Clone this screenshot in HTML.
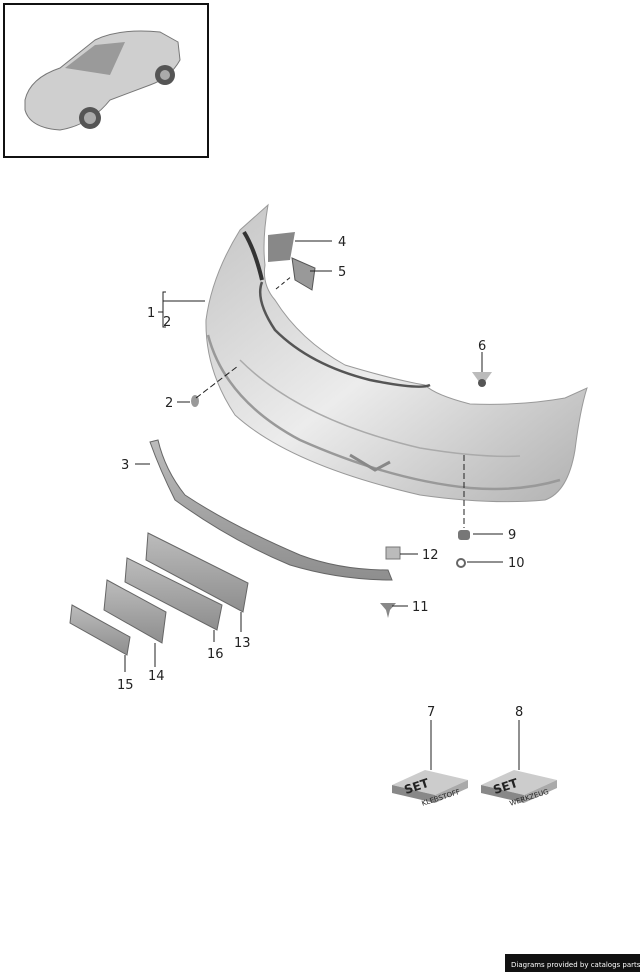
<!DOCTYPE html>
<html><head><meta charset="utf-8"><style>
html,body{margin:0;padding:0;background:#fff;}
svg{display:block;}
text{font-family:"DejaVu Sans","Liberation Sans",sans-serif;font-size:13px;fill:#222;}
</style></head><body>
<svg width="640" height="972" viewBox="0 0 640 972" xmlns="http://www.w3.org/2000/svg">
<defs>
<linearGradient id="bg" x1="0" y1="0" x2="1" y2="1">
<stop offset="0" stop-color="#c4c4c4"/><stop offset="0.5" stop-color="#ececec"/><stop offset="1" stop-color="#b0b0b0"/>
</linearGradient>
<linearGradient id="pl" x1="0" y1="0" x2="0" y2="1">
<stop offset="0" stop-color="#bcbcbc"/><stop offset="1" stop-color="#8e8e8e"/>
</linearGradient>
</defs>
<rect x="4" y="4" width="204" height="153" fill="#fff" stroke="#111" stroke-width="2"/>
<path d="M25 100 Q30 78 60 68 L95 40 Q120 28 160 32 L178 42 L180 60 Q170 78 150 85 L110 100 Q90 125 60 130 Q30 128 25 110 Z" fill="#cfcfcf" stroke="#777"/>
<path d="M65 68 L95 45 L125 42 L110 75 Z" fill="#9a9a9a"/>
<circle cx="90" cy="118" r="11" fill="#555"/><circle cx="90" cy="118" r="6" fill="#aaa"/>
<circle cx="165" cy="75" r="10" fill="#555"/><circle cx="165" cy="75" r="5" fill="#aaa"/>
<path d="M268 205 L240 230 Q212 275 206 320 Q205 370 235 415 Q290 465 420 495 Q490 505 545 500 Q568 492 575 450 Q580 410 587 388 L565 398 Q520 406 470 404 Q435 395 425 385 Q395 380 345 365 Q300 340 275 300 Q262 285 265 265 Q262 240 268 205 Z" fill="url(#bg)" stroke="#999" stroke-width="1"/>
<path d="M208 335 Q225 400 300 440 Q390 480 470 488 Q520 492 560 480" fill="none" stroke="#999" stroke-width="2.5"/>
<path d="M240 360 Q300 420 420 448 Q480 458 520 456" fill="none" stroke="#aaa" stroke-width="1.5"/>
<path d="M262 282 Q255 300 275 330 Q310 365 370 380 Q420 390 430 385" fill="none" stroke="#555" stroke-width="2.5"/>
<path d="M244 232 Q255 250 262 280" fill="none" stroke="#333" stroke-width="4"/>
<path d="M350 455 L375 470 L390 462" fill="none" stroke="#888" stroke-width="3"/>
<path d="M268 235 L295 232 L290 260 L268 262 Z" fill="#888"/>
<path d="M292 258 L315 268 L312 290 L295 280 Z" fill="#999" stroke="#555"/>
<path d="M472 372 L492 372 L482 386 Z" fill="#bbb"/><circle cx="482" cy="383" r="4" fill="#555"/>
<ellipse cx="195" cy="401" rx="4" ry="6" fill="#999"/>
<path d="M150 442 Q160 470 175 500 Q230 540 290 565 Q340 580 392 580 L388 570 Q340 570 300 555 Q230 525 185 495 Q165 470 158 440 Z" fill="url(#pl)" stroke="#666"/>
<rect x="458" y="530" width="12" height="10" rx="3" fill="#777"/>
<circle cx="461" cy="563" r="4" fill="none" stroke="#666" stroke-width="2"/>
<rect x="386" y="547" width="14" height="12" fill="#bbb" stroke="#777"/>
<path d="M380 603 L396 603 L390 610 L388 618 L386 610 Z" fill="#888"/>
<path d="M148 533 L248 583 L243 612 L146 560 Z" fill="url(#pl)" stroke="#666"/>
<path d="M127 558 L222 605 L217 630 L125 582 Z" fill="url(#pl)" stroke="#666"/>
<path d="M107 580 L166 612 L162 643 L104 610 Z" fill="url(#pl)" stroke="#666"/>
<path d="M72 605 L130 637 L127 655 L70 623 Z" fill="url(#pl)" stroke="#666"/>
<g stroke="#222" stroke-width="1" fill="none">
<line x1="295" y1="241" x2="332" y2="241"/>
<line x1="310" y1="271" x2="332" y2="271"/>
<line x1="163" y1="301" x2="205" y2="301"/>
<path d="M166 292 L163 292 L163 327 L166 327"/>
<line x1="158" y1="312" x2="163" y2="312"/>
<line x1="177" y1="402" x2="190" y2="402"/>
<line x1="482" y1="352" x2="482" y2="372"/>
<line x1="135" y1="464" x2="150" y2="464"/>
<line x1="473" y1="534" x2="503" y2="534"/>
<line x1="467" y1="562" x2="503" y2="562"/>
<line x1="400" y1="554" x2="418" y2="554"/>
<line x1="392" y1="606" x2="408" y2="606"/>
<line x1="241" y1="612" x2="241" y2="632"/>
<line x1="214" y1="630" x2="214" y2="642"/>
<line x1="155" y1="643" x2="155" y2="667"/>
<line x1="125" y1="655" x2="125" y2="672"/>
<line x1="431" y1="720" x2="431" y2="770"/>
<line x1="519" y1="720" x2="519" y2="770"/>
<line x1="464" y1="455" x2="464" y2="528" stroke-dasharray="6,3"/>
<line x1="196" y1="398" x2="238" y2="366" stroke-dasharray="6,3"/>
<line x1="276" y1="289" x2="292" y2="276" stroke-dasharray="4,3"/>
</g>
<g>
<path d="M392 785 L425 770 L468 780 L435 795 Z" fill="#ccc"/>
<path d="M392 785 L435 795 L435 803 L392 793 Z" fill="#888"/>
<path d="M435 795 L468 780 L468 788 L435 803 Z" fill="#aaa"/>
<text x="404" y="790" transform="rotate(-18 418 786)" style="font-weight:bold;font-size:12px">SET</text>
<text x="420" y="800" transform="rotate(-18 440 795)" style="font-size:7px">KLEBSTOFF</text>
<path d="M481 785 L514 770 L557 780 L524 795 Z" fill="#ccc"/>
<path d="M481 785 L524 795 L524 803 L481 793 Z" fill="#888"/>
<path d="M524 795 L557 780 L557 788 L524 803 Z" fill="#aaa"/>
<text x="493" y="790" transform="rotate(-18 507 786)" style="font-weight:bold;font-size:12px">SET</text>
<text x="508" y="800" transform="rotate(-18 528 795)" style="font-size:7px">WERKZEUG</text>
</g>
<text x="338" y="246">4</text>
<text x="338" y="276">5</text>
<text x="147" y="317">1</text>
<text x="163" y="326">2</text>
<text x="165" y="407">2</text>
<text x="478" y="350">6</text>
<text x="121" y="469">3</text>
<text x="508" y="539">9</text>
<text x="508" y="567">10</text>
<text x="422" y="559">12</text>
<text x="412" y="611">11</text>
<text x="234" y="647">13</text>
<text x="207" y="658">16</text>
<text x="148" y="680">14</text>
<text x="117" y="689">15</text>
<text x="427" y="716">7</text>
<text x="515" y="716">8</text>
<rect x="505" y="954" width="135" height="18" fill="#111"/>
<text x="511" y="967" style="font-size:7px;fill:#fff">Diagrams provided by catalogs parts</text>
</svg>
</body></html>
